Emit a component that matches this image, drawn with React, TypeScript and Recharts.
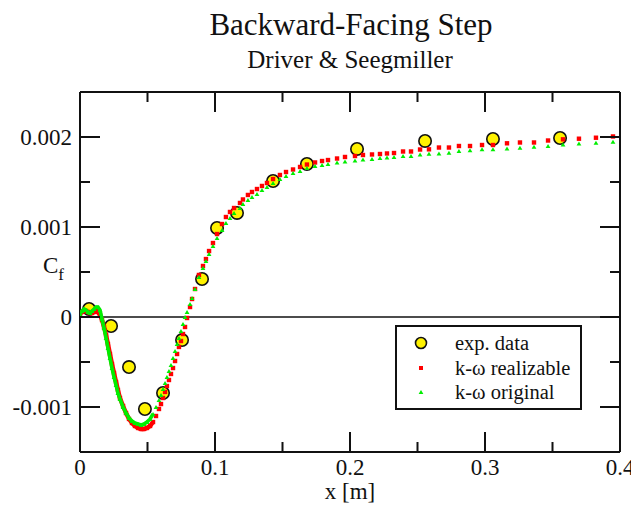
import React from 'react';
import { ScatterChart, Scatter, XAxis, YAxis, ReferenceLine, Legend, Label } from 'recharts';

// ---- measured skin-friction data ----
const expX = [0.0067, 0.023, 0.0363, 0.0481, 0.0615, 0.0756, 0.0904, 0.1015, 0.1163, 0.143, 0.1681, 0.2052, 0.2556, 0.3059, 0.3556];
const expCf = [0.000089, -0.0001, -0.000556, -0.001022, -0.000844, -0.000256, 0.000422, 0.000989, 0.001156, 0.001511, 0.0017, 0.001867, 0.001956, 0.001978, 0.001989];

// ---- wall-adjacent cell centres of the simulation mesh ----
const meshX = [
  0, 0.0015, 0.003, 0.0044, 0.0059, 0.0074, 0.0089, 0.0104, 0.0119, 0.0133,
  0.0148, 0.0163, 0.0178, 0.0193, 0.0207, 0.0222, 0.0237, 0.0252, 0.0267, 0.0281,
  0.0296, 0.0319, 0.0341, 0.0363, 0.0385, 0.0407, 0.043, 0.0452, 0.0474, 0.0496,
  0.0519, 0.0541, 0.0563, 0.0585, 0.06, 0.0615, 0.063, 0.0644, 0.0659, 0.0674,
  0.0689, 0.0704, 0.0719, 0.0733, 0.0748, 0.0763, 0.0778, 0.0793, 0.0815, 0.083,
  0.0852, 0.0881, 0.0911, 0.0933, 0.0956, 0.0985, 0.1015, 0.1052, 0.1081, 0.1111,
  0.1141, 0.1185, 0.1207, 0.1244, 0.1274, 0.1311, 0.1348, 0.1385, 0.143, 0.1481,
  0.1526, 0.1578, 0.163, 0.1681, 0.1741, 0.1793, 0.1837, 0.1904, 0.1963, 0.2037,
  0.2096, 0.2163, 0.2222, 0.2274, 0.2326, 0.2393, 0.2452, 0.2519, 0.2585, 0.2659,
  0.2733, 0.2807, 0.2889, 0.2978, 0.3059, 0.3163, 0.3259, 0.3363, 0.3467, 0.3578,
  0.3696, 0.3822, 0.3948,
];

// k-omega realizable
const realizableCf = [
  0.000033, 0.000056, 0.000067, 0.000067, 0.000056, 0.000044, 0.000044, 0.000056, 0.000067, 0.000056,
  0.000022, -0.000033, -0.000111, -0.0002, -0.0003, -0.000411, -0.000522, -0.000622, -0.000722, -0.000811,
  -0.0009, -0.000989, -0.001067, -0.001133, -0.001178, -0.001211, -0.001233, -0.001244, -0.001244, -0.001233,
  -0.001211, -0.001167, -0.0011, -0.001022, -0.000967, -0.0009, -0.000833, -0.000767, -0.0007, -0.000633,
  -0.000567, -0.000489, -0.000411, -0.000333, -0.000267, -0.000189, -0.000111, -0.000011, 0.000111, 0.0002,
  0.000311, 0.000467, 0.000567, 0.000644, 0.000733, 0.000822, 0.000922, 0.001033, 0.001111, 0.001167,
  0.001211, 0.001267, 0.001306, 0.001356, 0.001389, 0.001422, 0.001456, 0.001489, 0.001533, 0.001578,
  0.001611, 0.001639, 0.001667, 0.001694, 0.001717, 0.001733, 0.001744, 0.001761, 0.001778, 0.001789,
  0.0018, 0.001806, 0.001811, 0.001817, 0.001822, 0.001839, 0.001839, 0.001861, 0.001863, 0.001883,
  0.001883, 0.0019, 0.0019, 0.001911, 0.001911, 0.00193, 0.001939, 0.001939, 0.001961, 0.001974,
  0.001981, 0.001992, 0.002006,
];

// k-omega original
const originalCf = [
  0.000033, 0.000067, 0.000089, 0.000078, 0.000056, 0.000044, 0.000067, 0.000089, 0.000111, 0.000111,
  0.000078, -0.000022, -0.000122, -0.000233, -0.000344, -0.000456, -0.000567, -0.000667, -0.000756, -0.000844,
  -0.000911, -0.001, -0.001067, -0.001122, -0.001156, -0.001178, -0.001189, -0.0012, -0.001189, -0.001167,
  -0.001133, -0.001078, -0.001, -0.000922, -0.000867, -0.0008, -0.000733, -0.000667, -0.0006, -0.000533,
  -0.000456, -0.000378, -0.0003, -0.000233, -0.000156, -0.000078, 0, 0.000056, 0.000144, 0.000211,
  0.000311, 0.000444, 0.000544, 0.000622, 0.0007, 0.000789, 0.000878, 0.000967, 0.001044, 0.0011,
  0.001156, 0.001211, 0.001256, 0.0013, 0.001333, 0.001367, 0.001411, 0.001444, 0.001489, 0.001533,
  0.001567, 0.0016, 0.001622, 0.001656, 0.001678, 0.001689, 0.0017, 0.001717, 0.001728, 0.001739,
  0.00175, 0.001756, 0.001767, 0.001772, 0.001778, 0.001789, 0.001789, 0.001806, 0.001814, 0.001817,
  0.001826, 0.001844, 0.001852, 0.001863, 0.001863, 0.001872, 0.001881, 0.001892, 0.0019, 0.001917,
  0.001928, 0.001937, 0.001948,
];

// ---- axes ----
const xTicks = [0, 0.05, 0.1, 0.15, 0.2, 0.25, 0.3, 0.35, 0.4];
const xTickLabels = ['0', '', '0.1', '', '0.2', '', '0.3', '', '0.4'];
const yTicks = [-0.001, -0.0005, 0, 0.0005, 0.001, 0.0015, 0.002];
const yTickLabels = ['-0.001', '', '0', '', '0.001', '', '0.002'];
const xDomain = [0, 0.4];
const yDomain = [-0.0015, 0.0025];

// legend rows, top to bottom
const legendNames = ['exp. data', 'k-ω realizable', 'k-ω original'];

// cells closer than this are so fine that their markers merge into a solid band
const DENSE_MESH_END = 0.055;

const FONT = '"Liberation Serif", "Times New Roman", Times, serif';
const INK = '#111';
const YELLOW = '#fff200';
const RED = '#ff0000';
const GREEN = '#00ee00';
const MAJOR = 20;
const MINOR = 10;

const expData = expX.map((x, i) => ({ x, cf: expCf[i] }));
const realizableData = meshX.map((x, i) => ({ x, cf: realizableCf[i] }));
const originalData = meshX.map((x, i) => ({ x, cf: originalCf[i] }));
const realizableDense = realizableData.filter((d) => d.x <= DENSE_MESH_END);
const originalDense = originalData.filter((d) => d.x <= DENSE_MESH_END);

const labelFor = (value: number, ticks: number[], labels: string[]) => {
  const i = ticks.findIndex((t) => Math.abs(t - value) < 1e-9);
  return i >= 0 ? labels[i] : '';
};

const tickText = { fontFamily: FONT, fontSize: 23, fill: INK };

// ticks point into the plot on all four sides; labels only on left and bottom
const BottomTick = (p: any) => {
  const label = labelFor(p.payload.value, xTicks, xTickLabels);
  return (
    <g>
      <line x1={p.x} x2={p.x} y1={p.y} y2={p.y - (label ? MAJOR : MINOR)} stroke={INK} strokeWidth={2} />
      {label ? <text x={p.x} y={p.y + 23} textAnchor="middle" {...tickText}>{label}</text> : null}
    </g>
  );
};
const TopTick = (p: any) => {
  const label = labelFor(p.payload.value, xTicks, xTickLabels);
  return <line x1={p.x} x2={p.x} y1={p.y} y2={p.y + (label ? MAJOR : MINOR)} stroke={INK} strokeWidth={2} />;
};
const LeftTick = (p: any) => {
  const label = labelFor(p.payload.value, yTicks, yTickLabels);
  return (
    <g>
      <line x1={p.x} x2={p.x + (label ? MAJOR : MINOR)} y1={p.y} y2={p.y} stroke={INK} strokeWidth={2} />
      {label ? <text x={p.x - 8} y={p.y + 8} textAnchor="end" {...tickText}>{label}</text> : null}
    </g>
  );
};
const RightTick = (p: any) => {
  const label = labelFor(p.payload.value, yTicks, yTickLabels);
  return <line x1={p.x} x2={p.x - (label ? MAJOR : MINOR)} y1={p.y} y2={p.y} stroke={INK} strokeWidth={2} />;
};

const XTitle = (p: any) => (
  <text x={p.viewBox.x + p.viewBox.width / 2} y={p.viewBox.y + 47} textAnchor="middle" fontFamily={FONT} fontSize={23} fill={INK}>
    x [m]
  </text>
);
const YTitle = (p: any) => (
  <text x={p.viewBox.x - 36} y={p.viewBox.y + 181} fontFamily={FONT} fontSize={23} fill={INK}>
    <tspan>C</tspan>
    <tspan dy={7} fontSize={17}>f</tspan>
  </text>
);

// ---- markers ----
const ExpMarker = (p: any) => <circle cx={p.cx} cy={p.cy} r={6.2} fill={YELLOW} stroke={INK} strokeWidth={1.6} />;
const SquareMarker = (p: any) => <rect x={p.cx - 2.2} y={p.cy - 2.2} width={4.4} height={4.4} fill={RED} />;
const TriangleMarker = (p: any) => (
  <polygon points={`${p.cx - 2.4},${p.cy + 2} ${p.cx + 2.4},${p.cy + 2} ${p.cx},${p.cy - 2}`} fill={GREEN} />
);
const NoMarker = () => <g />;

const legendMarkers: Record<string, React.ReactNode> = {
  'exp. data': <circle cx={24} cy={12} r={5.5} fill={YELLOW} stroke={INK} strokeWidth={1.6} />,
  'k-ω realizable': <rect x={22} y={10} width={4} height={4} fill={RED} />,
  'k-ω original': <polygon points="21.6,14 26.4,14 24,10" fill={GREEN} />,
};

const LegendBox = () => (
  <div
    style={{
      width: 187,
      height: 85,
      boxSizing: 'border-box',
      border: `2px solid ${INK}`,
      background: '#fff',
      paddingTop: 4,
      fontFamily: FONT,
      fontSize: 20.5,
      color: INK,
    }}
  >
    {legendNames.map((name) => (
      <div key={name} style={{ height: 24.5, display: 'flex', alignItems: 'center' }}>
        <svg width={58} height={24} style={{ display: 'block' }}>
          {legendMarkers[name]}
        </svg>
        <span style={{ lineHeight: '24px', whiteSpace: 'nowrap' }}>{name}</span>
      </div>
    ))}
  </div>
);

const axisLine = { stroke: INK, strokeWidth: 2 };

export default function App() {
  return (
    <div style={{ width: 631, height: 508, background: '#fff' }}>
      <style>{'body{margin:0;background:#fff}'}</style>
      <ScatterChart width={631} height={508} margin={{ top: 91, right: 10, bottom: 55, left: 79 }}>
        <XAxis
          type="number"
          dataKey="x"
          domain={xDomain}
          ticks={xTicks}
          interval={0}
          height={1}
          tickSize={0}
          tickMargin={0}
          tickLine={false}
          axisLine={axisLine}
          tick={BottomTick}
          allowDataOverflow
        >
          <Label content={XTitle} />
        </XAxis>
        <XAxis
          xAxisId="top"
          orientation="top"
          type="number"
          dataKey="x"
          domain={xDomain}
          ticks={xTicks}
          interval={0}
          height={1}
          tickSize={0}
          tickMargin={0}
          tickLine={false}
          axisLine={axisLine}
          tick={TopTick}
          allowDataOverflow
        />
        <YAxis
          type="number"
          dataKey="cf"
          domain={yDomain}
          ticks={yTicks}
          interval={0}
          width={1}
          tickSize={0}
          tickMargin={0}
          tickLine={false}
          axisLine={axisLine}
          tick={LeftTick}
          allowDataOverflow
        >
          <Label content={YTitle} />
        </YAxis>
        <YAxis
          yAxisId="right"
          orientation="right"
          type="number"
          dataKey="cf"
          domain={yDomain}
          ticks={yTicks}
          interval={0}
          width={1}
          tickSize={0}
          tickMargin={0}
          tickLine={false}
          axisLine={axisLine}
          tick={RightTick}
          allowDataOverflow
        />
        <ReferenceLine y={0} stroke={INK} strokeWidth={1.6} />
        <Scatter name="exp. data" data={expData} shape={ExpMarker} isAnimationActive={false} />
        <Scatter
          name="realizable-dense"
          data={realizableDense}
          line={{ stroke: RED, strokeWidth: 4.4 }}
          lineType="joint"
          shape={NoMarker}
          legendType="none"
          isAnimationActive={false}
        />
        <Scatter name="k-ω realizable" data={realizableData} shape={SquareMarker} isAnimationActive={false} />
        <Scatter
          name="original-dense"
          data={originalDense}
          line={{ stroke: GREEN, strokeWidth: 3.6 }}
          lineType="joint"
          shape={NoMarker}
          legendType="none"
          isAnimationActive={false}
        />
        <Scatter name="k-ω original" data={originalData} shape={TriangleMarker} isAnimationActive={false} />
        <Legend
          layout="vertical"
          align="center"
          verticalAlign="middle"
          wrapperStyle={{ left: 395, top: 325, width: 187, height: 85 }}
          content={LegendBox}
        />
        <text x={351} y={35} textAnchor="middle" fontFamily={FONT} fontSize={31} fill={INK}>
          Backward-Facing Step
        </text>
        <text x={350} y={68} textAnchor="middle" fontFamily={FONT} fontSize={25} fill={INK}>
          Driver &amp; Seegmiller
        </text>
      </ScatterChart>
    </div>
  );
}
